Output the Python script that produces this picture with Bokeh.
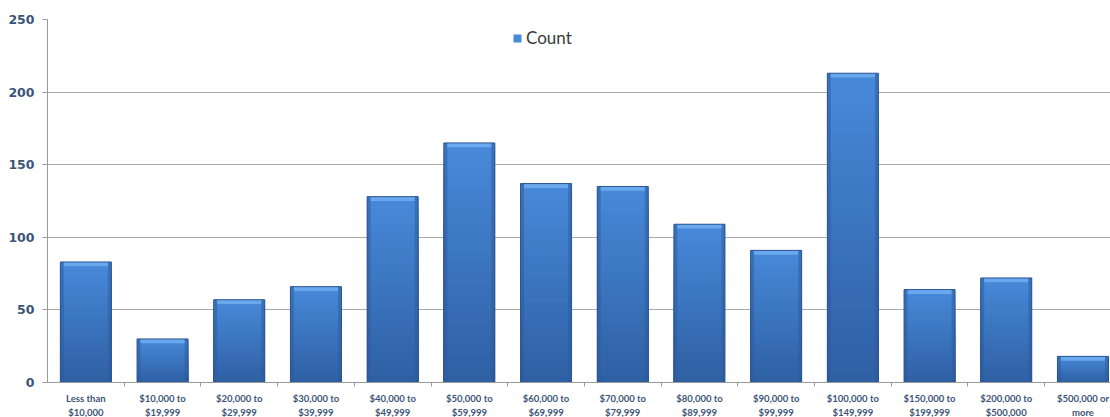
import numpy as np
from bokeh.plotting import figure
from bokeh.models import Range1d, FixedTicker, Legend, LegendItem
from bokeh.embed import file_html
from bokeh.resources import INLINE

# Household income brackets and respondent counts
categories = [
    "Less than\n$10,000", "$10,000 to\n$19,999", "$20,000 to\n$29,999",
    "$30,000 to\n$39,999", "$40,000 to\n$49,999", "$50,000 to\n$59,999",
    "$60,000 to\n$69,999", "$70,000 to\n$79,999", "$80,000 to\n$89,999",
    "$90,000 to\n$99,999", "$100,000 to\n$149,999", "$150,000 to\n$199,999",
    "$200,000 to\n$500,000", "$500,000 or\nmore",
]
counts = [83, 30, 57, 66, 128, 165, 137, 135, 109, 91, 213, 64, 72, 18]
y_ticks = [0, 50, 100, 150, 200, 250]

LABEL_COLOR = "#3B5577"
GRID_COLOR = "#ABABAB"
AXIS_COLOR = "#9A9A9A"

positions = np.arange(1, len(categories) + 1)
values = np.array(counts, dtype=float)

# the category slot is ~76.7 px wide; the last slot runs past the right edge
frame_w, frame_h = 1063, 363
slot_px = 76.7
p = figure(
    frame_width=frame_w, frame_height=frame_h,
    x_range=Range1d(0.5, 0.5 + frame_w / slot_px),
    y_range=Range1d(0, 250),
    output_backend="svg", toolbar_location=None,
    min_border_left=47, min_border_top=19, min_border_bottom=35, min_border_right=0,
    background_fill_color="white", border_fill_color="white",
)
p.outline_line_color = None

p.xgrid.grid_line_color = None
p.ygrid.grid_line_color = GRID_COLOR
p.ygrid.grid_line_width = 1

# vertical gradient: full-height bar first, then shorter and darker bars over it
bar_w = 0.665
n_steps = 30
top_rgb = np.array([0x48, 0x8A, 0xDA])
bot_rgb = np.array([0x2F, 0x60, 0xA4])
full_bar = None
for i in range(n_steps - 1, -1, -1):
    frac = (i + 1) / n_steps
    c = (bot_rgb + (top_rgb - bot_rgb) * ((i + 0.5) / n_steps)).astype(int)
    color = "#%02x%02x%02x" % tuple(c)
    r = p.vbar(x=positions, width=bar_w, bottom=0, top=values * frac,
               fill_color=color, line_color=None)
    if full_bar is None:
        full_bar = r

# darker side edges of the bevel
edge_w = 0.045
for side in (-1, 1):
    p.vbar(x=positions + side * (bar_w / 2 - edge_w / 2), width=edge_w,
           bottom=0, top=values, fill_color="#2D5A9A", fill_alpha=0.5, line_color=None)

# light top cap of the bevel
cap = 3.0
p.vbar(x=positions, width=bar_w - 2 * edge_w, bottom=values - cap, top=values,
       fill_color="#6AA8EE", line_color=None)
p.vbar(x=positions, width=bar_w, bottom=0, top=values,
       fill_color=None, line_color="#2B5592", line_width=1)

# axes
p.yaxis.ticker = FixedTicker(ticks=y_ticks)
p.yaxis.axis_line_color = AXIS_COLOR
p.yaxis.major_tick_line_color = AXIS_COLOR
p.yaxis.major_tick_out = 5
p.yaxis.major_tick_in = 0
p.yaxis.minor_tick_line_color = None
p.yaxis.major_label_text_font = "DejaVu Sans"
p.yaxis.major_label_text_font_style = "bold"
p.yaxis.major_label_text_font_size = "12.5px"
p.yaxis.major_label_text_color = LABEL_COLOR
p.yaxis.major_label_standoff = 8

boundaries = list(np.arange(1.5, len(categories) + 0.5, 1.0))
p.xaxis.ticker = FixedTicker(ticks=list(positions), minor_ticks=boundaries)
p.xaxis.major_label_overrides = {int(k): lab for k, lab in zip(positions, categories)}
p.xaxis.axis_line_color = AXIS_COLOR
p.xaxis.major_tick_line_color = None
p.xaxis.minor_tick_line_color = AXIS_COLOR
p.xaxis.minor_tick_out = 4
p.xaxis.minor_tick_in = 0
p.xaxis.major_label_text_font = "Lato"
p.xaxis.major_label_text_font_style = "bold"
p.xaxis.major_label_text_font_size = "9.5px"
p.xaxis.major_label_text_color = LABEL_COLOR
p.xaxis.major_label_text_line_height = 1.3
p.xaxis.major_label_standoff = 4

legend = Legend(
    items=[LegendItem(label="Count", renderers=[full_bar])],
    location=(465, 334), orientation="horizontal",
    glyph_width=10, glyph_height=10, label_standoff=4,
    padding=0, margin=0, spacing=0,
    background_fill_alpha=0, border_line_color=None,
    label_text_font="Lato", label_text_font_size="17px", label_text_color="#3A3A3A",
)
p.add_layout(legend, "center")

open("out.html", "w").write(file_html(p, INLINE))
